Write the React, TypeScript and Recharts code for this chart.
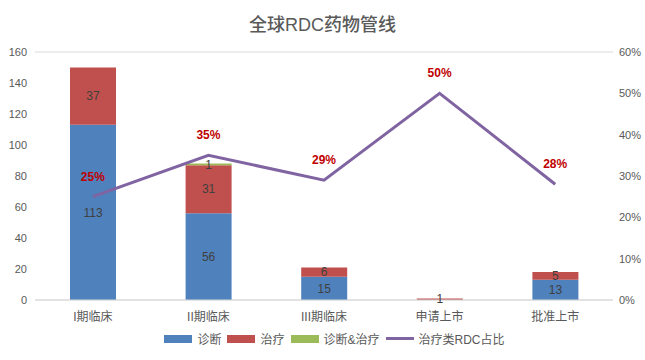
import {
  ComposedChart,
  Bar,
  Line,
  XAxis,
  YAxis,
  CartesianGrid,
  Legend,
  LabelList,
} from 'recharts';

document.body.style.margin = '0';

const FONT = '"Liberation Sans", "Noto Sans CJK SC", sans-serif';

const stages = ['I期临床', 'II期临床', 'III期临床', '申请上市', '批准上市'];
const diagnosis = [113, 56, 15, 0, 13];
const therapy = [37, 31, 6, 1, 5];
const both = [0, 1, 0, 0, 0];
const therapyShare = [25, 35, 29, 50, 28];

const leftTicks = [0, 20, 40, 60, 80, 100, 120, 140, 160];
const rightTicks = [0, 10, 20, 30, 40, 50, 60];

const data = stages.map((s, i) => ({
  stage: s,
  diagnosis: diagnosis[i],
  therapy: therapy[i],
  both: both[i],
  share: therapyShare[i],
}));

const legendItems = [
  { label: '诊断', color: '#4F81BD', type: 'rect' },
  { label: '治疗', color: '#C0504D', type: 'rect' },
  { label: '诊断&治疗', color: '#9BBB59', type: 'rect' },
  { label: '治疗类RDC占比', color: '#8064A2', type: 'line' },
];

const hideZero = (v: any) => (v ? v : '');

function ShareLabel(props: any) {
  const { x, y, value } = props;
  return (
    <text
      x={x}
      y={y - 16}
      textAnchor="middle"
      fill="#C00000"
      fontSize={12}
      fontWeight="bold"
      fontFamily={FONT}
    >
      {value}%
    </text>
  );
}

function LegendContent() {
  return (
    <div
      style={{
        display: 'flex',
        justifyContent: 'center',
        alignItems: 'center',
        fontFamily: FONT,
        fontSize: 12,
        color: '#595959',
        paddingLeft: 30,
      }}
    >
      {legendItems.map((it) => (
        <div key={it.label} style={{ display: 'flex', alignItems: 'center', marginRight: 6 }}>
          {it.type === 'rect' ? (
            <span style={{ width: 28, height: 8, background: it.color, marginRight: 5 }} />
          ) : (
            <span style={{ width: 28, height: 3, background: it.color, marginRight: 5 }} />
          )}
          <span>{it.label}</span>
        </div>
      ))}
    </div>
  );
}

export default function App() {
  return (
    <div style={{ position: 'relative', width: 645, height: 360, background: '#fff' }}>
      <div
        style={{
          position: 'absolute',
          top: 10,
          left: 0,
          width: 645,
          textAlign: 'center',
          fontFamily: FONT,
          fontSize: 18,
          fontWeight: 500,
          color: '#595959',
        }}
      >
        全球RDC药物管线
      </div>
      <ComposedChart
        width={645}
        height={360}
        data={data}
        margin={{ top: 52, right: 0, left: 0, bottom: 0 }}
      >
        <CartesianGrid vertical={false} stroke="#d9d9d9" />
        <XAxis
          dataKey="stage"
          tick={{ fontSize: 12, fill: '#595959', fontFamily: FONT }}
          tickLine={false}
          axisLine={{ stroke: '#d9d9d9' }}
          tickMargin={6}
          height={30}
        />
        <YAxis
          yAxisId="left"
          domain={[0, 160]}
          ticks={leftTicks}
          width={35}
          tickSize={0}
          tickMargin={8}
          axisLine={false}
          tickLine={false}
          tick={{ fontSize: 11, fill: '#595959', fontFamily: FONT }}
        />
        <YAxis
          yAxisId="right"
          orientation="right"
          domain={[0, 60]}
          ticks={rightTicks}
          width={32}
          tickSize={0}
          tickMargin={6}
          axisLine={false}
          tickLine={false}
          tickFormatter={(v) => `${v}%`}
          tick={{ fontSize: 11, fill: '#595959', fontFamily: FONT }}
        />
        <Legend verticalAlign="bottom" height={30} content={<LegendContent />} />
        <Bar yAxisId="left" dataKey="diagnosis" name="诊断" stackId="a" fill="#4F81BD" barSize={46} isAnimationActive={false}>
          <LabelList dataKey="diagnosis" position="center" formatter={hideZero} fill="#404040" fontSize={12} fontFamily={FONT} />
        </Bar>
        <Bar yAxisId="left" dataKey="therapy" name="治疗" stackId="a" fill="#C0504D" barSize={46} isAnimationActive={false}>
          <LabelList dataKey="therapy" position="center" formatter={hideZero} fill="#404040" fontSize={12} fontFamily={FONT} />
        </Bar>
        <Bar yAxisId="left" dataKey="both" name="诊断&治疗" stackId="a" fill="#9BBB59" barSize={46} isAnimationActive={false}>
          <LabelList dataKey="both" position="center" formatter={hideZero} fill="#404040" fontSize={12} fontFamily={FONT} />
        </Bar>
        <Line
          yAxisId="right"
          dataKey="share"
          name="治疗类RDC占比"
          stroke="#8064A2"
          strokeWidth={3}
          dot={false}
          type="linear"
          isAnimationActive={false}
        >
          <LabelList dataKey="share" content={<ShareLabel />} />
        </Line>
      </ComposedChart>
    </div>
  );
}
